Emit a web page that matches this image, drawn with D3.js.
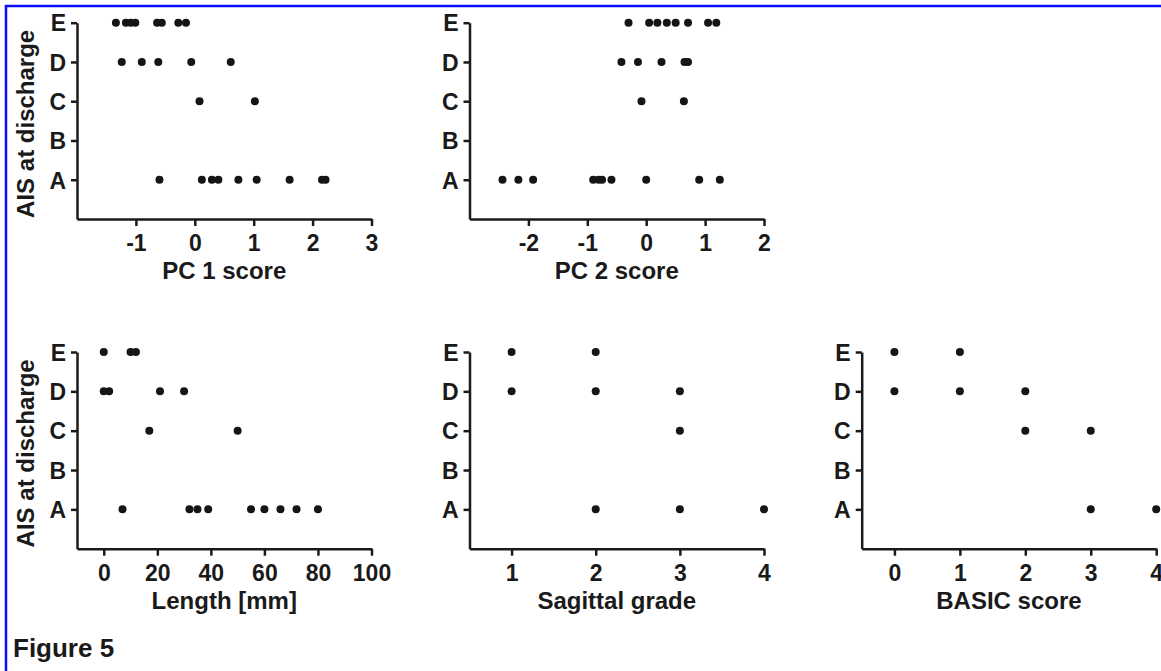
<!DOCTYPE html>
<html>
<head>
<meta charset="utf-8">
<script src="https://cdn.jsdelivr.net/npm/d3@7"></script>
<style>
  body { margin: 0; background: #fff; }
  svg { display: block; font-family: "Liberation Sans", Arial, sans-serif; }
  .axis path, .axis line { stroke: #1a1a1a; stroke-width: 2.5px; }
  .axis text { fill: #1a1a1a; font-weight: bold; }
</style>
</head>
<body>
<div id="chart"></div>
<script>
// AIS grades, bottom to top
const categories = ["A", "B", "C", "D", "E"];

// PC 1 score per AIS grade
const pc1A = [-0.6, 0.12, 0.29, 0.4, 0.74, 1.05, 1.61, 2.16, 2.22];
const pc1C = [0.08, 1.02];
const pc1D = [-1.24, -0.9, -0.62, -0.06, 0.61];
const pc1E = [-1.34, -1.17, -1.09, -1.01, -0.64, -0.56, -0.28, -0.15];

// PC 2 score
const pc2A = [-2.44, -2.17, -1.92, -0.9, -0.81, -0.75, -0.59, 0.0, 0.9, 1.25];
const pc2C = [-0.08, 0.64];
const pc2D = [-0.42, -0.14, 0.26, 0.65, 0.71];
const pc2E = [-0.3, 0.05, 0.19, 0.35, 0.5, 0.71, 1.05, 1.19];

// Length [mm]
const lenA = [7, 32, 35, 39, 55, 60, 66, 72, 80];
const lenC = [17, 50];
const lenD = [0, 2, 21, 30];
const lenE = [0, 10, 12];

// Sagittal grade
const sagA = [2, 3, 4];
const sagC = [3];
const sagD = [1, 2, 3];
const sagE = [1, 2];

// BASIC score
const basA = [3, 4];
const basC = [2, 3];
const basD = [0, 1, 2];
const basE = [0, 1];

const pc1Ticks = [-1, 0, 1, 2, 3];
const pc2Ticks = [-2, -1, 0, 1, 2];
const lenTicks = [0, 20, 40, 60, 80, 100];
const sagTicks = [1, 2, 3, 4];
const basTicks = [0, 1, 2, 3, 4];

const W = 1161, H = 671;
const panelW = 294.5;

const svg = d3.select("#chart").append("svg")
    .attr("width", W)
    .attr("height", H);

svg.append("rect").attr("width", W).attr("height", H).attr("fill", "#fff");

// blue frame (top + left only)
svg.append("line").attr("x1", 5).attr("x2", W).attr("y1", 6).attr("y2", 6)
    .attr("stroke", "#0a0aff").attr("stroke-width", 2.5);
svg.append("line").attr("x1", 6).attr("x2", 6).attr("y1", 5).attr("y2", H)
    .attr("stroke", "#0a0aff").attr("stroke-width", 2.5);

function drawPanel(left, axisY, topY, domain, ticks, title, groups, showYTitle) {
    const x = d3.scaleLinear().domain(domain).range([left, left + panelW]);
    const y = d3.scaleLinear().domain([0, 5]).range([axisY, topY]);

    const g = svg.append("g");

    // points
    groups.forEach(([cat, vals]) => {
        const level = categories.indexOf(cat) + 1;
        g.selectAll(null)
            .data(vals)
            .enter()
            .append("circle")
            .attr("cx", d => x(d))
            .attr("cy", y(level))
            .attr("r", 4)
            .attr("fill", "#151515");
    });

    const yAxis = g.append("g")
        .attr("class", "axis")
        .attr("transform", `translate(${left},0)`)
        .call(d3.axisLeft(y)
            .tickValues([1, 2, 3, 4, 5])
            .tickFormat(d => categories[d - 1])
            .tickSize(6)
            .tickSizeOuter(0)
            .tickPadding(5));
    yAxis.selectAll("text").style("font-size", "23px").attr("dy", "0.36em");

    const xAxis = g.append("g")
        .attr("class", "axis")
        .attr("transform", `translate(0,${axisY})`)
        .call(d3.axisBottom(x)
            .tickValues(ticks)
            .tickSize(7)
            .tickSizeOuter(0)
            .tickPadding(9));
    xAxis.selectAll("text").style("font-size", "23px").text(d => d < 0 ? "-" + Math.abs(d) : d);

    g.append("text")
        .attr("x", left + panelW / 2)
        .attr("y", axisY + 60)
        .attr("text-anchor", "middle")
        .attr("font-size", "24px")
        .attr("font-weight", "bold")
        .attr("fill", "#1a1a1a")
        .text(title);

    if (showYTitle) {
        g.append("text")
            .attr("transform", `translate(34,${(axisY + topY) / 2 + 3}) rotate(-90)`)
            .attr("text-anchor", "middle")
            .attr("font-size", "24px")
            .attr("font-weight", "bold")
            .attr("fill", "#1a1a1a")
            .text("AIS at discharge");
    }
}

const cols = [77, 469.5, 861.7];

drawPanel(cols[0], 219, 22.7, [-2, 3], pc1Ticks, "PC 1 score",
    [["A", pc1A], ["C", pc1C], ["D", pc1D], ["E", pc1E]], true);
drawPanel(cols[1], 219, 22.7, [-3, 2], pc2Ticks, "PC 2 score",
    [["A", pc2A], ["C", pc2C], ["D", pc2D], ["E", pc2E]], false);
drawPanel(cols[0], 548.7, 352, [-10, 100], lenTicks, "Length [mm]",
    [["A", lenA], ["C", lenC], ["D", lenD], ["E", lenE]], true);
drawPanel(cols[1], 548.7, 352, [0.5, 4], sagTicks, "Sagittal grade",
    [["A", sagA], ["C", sagC], ["D", sagD], ["E", sagE]], false);
drawPanel(cols[2], 548.7, 352, [-0.5, 4], basTicks, "BASIC score",
    [["A", basA], ["C", basC], ["D", basD], ["E", basE]], false);

svg.append("text")
    .attr("x", 13)
    .attr("y", 657)
    .attr("font-size", "26px")
    .attr("font-weight", "bold")
    .attr("fill", "#1a1a1a")
    .text("Figure 5");
</script>
</body>
</html>
